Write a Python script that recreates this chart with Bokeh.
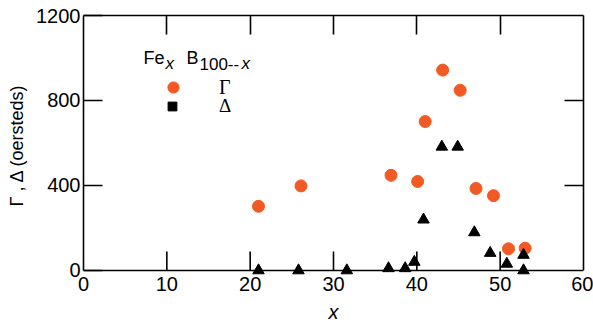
from bokeh.plotting import figure
from bokeh.models import (Range1d, FixedTicker, LinearAxis, Legend, LegendItem, Label, Span,
                          BoxAnnotation)
from bokeh.embed import file_html
from bokeh.resources import INLINE

# ---------------- data ----------------
gamma_x = [21.0, 26.1, 36.9, 40.1, 41.0, 43.1, 45.2, 47.1, 49.2, 51.0, 53.0]
gamma_y = [302, 398, 448, 419, 701, 943, 848, 386, 352, 102, 105]

delta_x = [21.0, 25.8, 31.6, 36.6, 38.6, 39.7, 40.8, 43.0, 44.9, 46.9, 48.8, 50.8, 52.8, 52.8]
delta_y = [0, 0, 0, 10, 10, 40, 239, 582, 582, 179, 82, 31, 73, 0]

x_ticks = [0, 10, 20, 30, 40, 50, 60]
y_ticks = [0, 400, 800, 1200]
legend_labels = ["Γ", "Δ"]
x_label = "x"
y_label = "Γ , Δ (oersteds)"

# ---------------- style / layout ----------------
FONT = "Liberation Sans"
SERIF = "Liberation Serif"
ORANGE = "#f15a24"
Y_PAD = 19          # room below zero so markers sitting on the axis are not clipped
LW = 1.6
TICK_PX = 19
BORDER_B = 51
FRAME_W = 593 - 83 - 10
FRAME_H = 325 - 15 - BORDER_B
PX_PER_UNIT = FRAME_H / (1200 + Y_PAD)
PX_PER_XUNIT = FRAME_W / 60

p = figure(width=593, height=325, output_backend="svg", toolbar_location=None,
           x_range=Range1d(0, 60), y_range=Range1d(-Y_PAD, 1200),
           min_border_left=83, min_border_right=10, min_border_top=15,
           min_border_bottom=BORDER_B)
p.outline_line_color = None
p.xgrid.visible = False
p.ygrid.visible = False
p.background_fill_color = "white"
p.border_fill_color = "white"


def style_axis(ax, show_labels=True):
    ax.axis_line_color = "black"
    ax.axis_line_width = LW
    ax.major_tick_line_color = "black"
    ax.major_tick_line_width = LW
    ax.major_tick_in = TICK_PX
    ax.major_tick_out = 0
    ax.minor_tick_line_color = None
    if show_labels:
        ax.major_label_text_font = FONT
        ax.major_label_text_font_size = "20px"
        ax.major_label_text_color = "black"
    else:
        ax.major_label_text_font_size = "0px"
        ax.major_label_standoff = 0


# bottom axis: tick labels and title only (it sits just below the zero line)
xb = p.xaxis[0]
xb.ticker = FixedTicker(ticks=list(x_ticks))
style_axis(xb)
xb.axis_line_color = None
xb.major_tick_line_color = None
xb.major_label_standoff = 2
xb.axis_label = x_label
xb.axis_label_text_font = FONT
xb.axis_label_text_font_style = "italic"
xb.axis_label_text_font_size = "20px"
xb.axis_label_text_color = "black"
xb.axis_label_standoff = 7

yl = p.yaxis[0]
yl.ticker = FixedTicker(ticks=list(y_ticks))
yl.bounds = (0, 1200)
style_axis(yl)
yl.major_label_standoff = 3
yl.axis_label = y_label
yl.axis_label_text_font = FONT
yl.axis_label_text_font_style = "normal"
yl.axis_label_text_font_size = "18px"
yl.axis_label_text_color = "black"
yl.axis_label_standoff = 6

top = LinearAxis(ticker=FixedTicker(ticks=x_ticks[1:-1]), bounds=(0, 60))
style_axis(top, show_labels=False)
top.major_label_overrides = {t: "" for t in x_ticks}
p.add_layout(top, "above")

right = LinearAxis(ticker=FixedTicker(ticks=y_ticks[1:-1]), bounds=(0, 1200))
style_axis(right, show_labels=False)
right.major_label_overrides = {t: "" for t in y_ticks}
p.add_layout(right, "right")

# zero axis line and its inward ticks
p.add_layout(Span(location=0, dimension="width", line_color="black", line_width=LW,
                  level="overlay"))
tick_len = TICK_PX / PX_PER_UNIT
half_w = (LW / 2) / PX_PER_XUNIT
for t in x_ticks[1:-1]:
    p.add_layout(BoxAnnotation(left=t - half_w, right=t + half_w, bottom=0, top=tick_len,
                               fill_color="black", fill_alpha=1.0, line_color=None,
                               level="overlay"))

# ---------------- data marks ----------------
r_g = p.scatter(gamma_x, gamma_y, marker="circle", size=12,
                fill_color=ORANGE, line_color=ORANGE)
r_d = p.scatter(delta_x, delta_y, marker="triangle", size=11.5,
                fill_color="black", line_color="black", level="overlay")
# legend key for delta is a square in the original (no data points of its own)
r_key = p.scatter(x=[float("nan")], y=[float("nan")], marker="square", size=9,
                  fill_color="black", line_color="black")

leg_g = Legend(items=[LegendItem(label=legend_labels[0], renderers=[r_g])],
               location=(76, 173), glyph_width=28, glyph_height=28,
               padding=0, margin=0, spacing=0, label_standoff=32,
               border_line_color=None, background_fill_alpha=0,
               label_text_font=SERIF, label_text_font_size="20px",
               label_text_color="black")
leg_d = Legend(items=[LegendItem(label=legend_labels[1], renderers=[r_key])],
               location=(78, 156), glyph_width=22, glyph_height=24,
               padding=0, margin=0, spacing=0, label_standoff=36,
               border_line_color=None, background_fill_alpha=0,
               label_text_font=SERIF, label_text_font_size="19px",
               label_text_color="black")
p.add_layout(leg_g)
p.add_layout(leg_d)

# legend title Fe_x B_(100-x)
title_parts = [
    ("Fe", 7.2, 998, "normal", "18px"),
    ("x", 9.84, 973, "italic", "17px"),
    ("B", 12.36, 998, "normal", "18px"),
    ("100--", 13.92, 973, "normal", "17px"),
    ("x", 18.95, 973, "italic", "17px"),
]
for txt, tx, ty, st, sz in title_parts:
    p.add_layout(Label(x=tx, y=ty, text=txt, text_font=FONT, text_font_style=st,
                       text_font_size=sz, text_baseline="alphabetic",
                       text_color="black"))

open("out.html", "w").write(file_html(p, INLINE))
